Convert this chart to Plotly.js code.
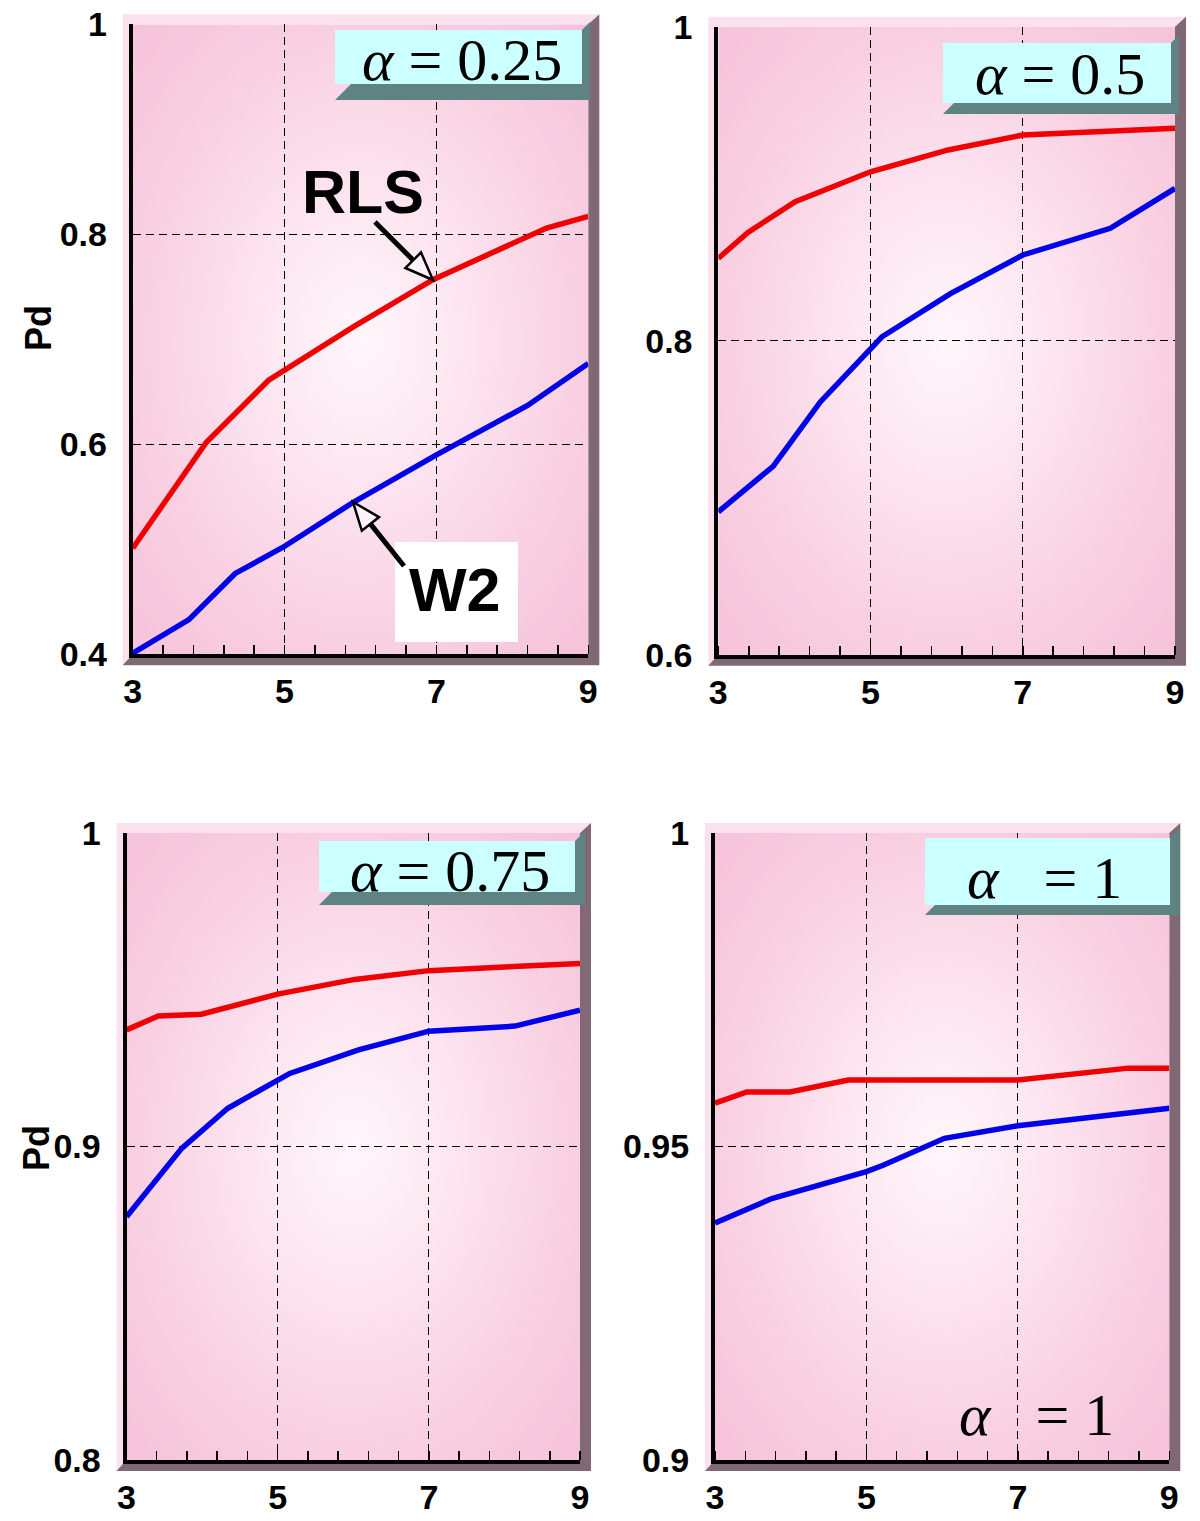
<!DOCTYPE html>
<html><head><meta charset="utf-8">
<script src="https://cdn.plot.ly/plotly-3.0.1.min.js"></script>
<style>html,body{margin:0;padding:0;background:#fff}#chart{width:1200px;height:1521px}</style>
</head><body><div id="chart"></div>
<script>
// ---------------- data ----------------
const xTicks = [3, 5, 7, 9];

// alpha = 0.25
const xRLS_025 = [3, 3.4, 3.62, 3.97, 4.79, 5.91, 6.96, 7.67, 8.45, 9];
const yRLS_025 = [0.501, 0.542, 0.566, 0.602, 0.661, 0.712, 0.757, 0.780, 0.806, 0.817];
const xW2_025 = [3, 3.74, 4.35, 4.98, 5.91, 7, 8.2, 9];
const yW2_025 = [0.401, 0.433, 0.477, 0.502, 0.545, 0.590, 0.637, 0.677];

// alpha = 0.5
const xRLS_05 = [3, 3.39, 4.01, 5.0, 6.02, 7, 9];
const yRLS_05 = [0.8525, 0.869, 0.8885, 0.9076, 0.9215, 0.931, 0.9353];
const xW2_05 = [3, 3.72, 4.34, 5.15, 6.05, 7, 8.15, 9];
const yW2_05 = [0.691, 0.720, 0.761, 0.8025, 0.830, 0.8546, 0.8716, 0.897];

// alpha = 0.75
const xRLS_075 = [3, 3.42, 3.99, 5, 6.02, 7, 9];
const yRLS_075 = [0.9372, 0.9416, 0.9422, 0.9486, 0.9533, 0.9561, 0.9584];
const xW2_075 = [3, 3.73, 4.34, 5.16, 6.07, 7, 8.14, 9];
const yW2_075 = [0.8776, 0.8994, 0.9122, 0.9233, 0.9308, 0.9368, 0.9384, 0.9435];

// alpha = 1
const xRLS_1 = [3, 3.42, 3.99, 4.76, 7, 8.46, 9];
const yRLS_1 = [0.9569, 0.9587, 0.9587, 0.9606, 0.9606, 0.9625, 0.9625];
const xW2_1 = [3, 3.75, 5, 5.22, 6.03, 7, 9];
const yW2_1 = [0.9378, 0.9417, 0.946, 0.947, 0.9513, 0.9533, 0.9561];

// y tick values / labels per panel
const yTicks_025 = [0.4, 0.6, 0.8, 1];  const yLabels_025 = ['0.4', '0.6', '0.8', '1'];
const yTicks_05  = [0.6, 0.8, 1];       const yLabels_05  = ['0.6', '0.8', '1'];
const yTicks_075 = [0.8, 0.9, 1];       const yLabels_075 = ['0.8', '0.9', '1'];
const yTicks_1   = [0.9, 0.95, 1];      const yLabels_1   = ['0.9', '0.95', '1'];

const seriesNames = ['RLS', 'W2'];
const alphaLabels = ['<i>α</i> = 0.25', '<i>α</i> = 0.5', '<i>α</i> = 0.75', '<i>α</i>\u2002 = 1'];

// ---------------- layout geometry (pixels) ----------------
const W = 1200, H = 1521;
const panels = [
  {rect: [132.7, 24.3, 588.3, 654.3], yr: [0.4, 1], yt: yTicks_025, yl: yLabels_025,
   xR: xRLS_025, yR: yRLS_025, xW: xW2_025, yW: yW2_025,
   box: [335, 30, 582, 84, 590, 100], lab: [462, 60]},
  {rect: [718.3, 26.7, 1175, 654.7], yr: [0.6, 1], yt: yTicks_05, yl: yLabels_05,
   xR: xRLS_05, yR: yRLS_05, xW: xW2_05, yW: yW2_05,
   box: [943, 43, 1171, 103, 1179, 114], lab: [1060, 74]},
  {rect: [126.5, 833, 580, 1460], yr: [0.8, 1], yt: yTicks_075, yl: yLabels_075,
   xR: xRLS_075, yR: yRLS_075, xW: xW2_075, yW: yW2_075,
   box: [319, 841, 575, 892, 585, 905], lab: [450, 871]},
  {rect: [715, 833, 1169.3, 1460], yr: [0.9, 1], yt: yTicks_1, yl: yLabels_1,
   xR: xRLS_1, yR: yRLS_1, xW: xW2_1, yW: yW2_1,
   box: [925, 838, 1170, 905, 1180, 915], lab: [1044, 878]}
];

const px = p => p / W;
const py = p => 1 - p / H;
const P = (x, y) => px(x).toFixed(5) + ',' + py(y).toFixed(5);
const path = pts => 'M' + pts.map(p => P(p[0], p[1])).join(' L') + ' Z';

// radial gradient background image
const cv = document.createElement('canvas');
cv.width = 300; cv.height = 300;
const cx = cv.getContext('2d');
const g = cx.createRadialGradient(150, 150, 0, 150, 150, 212);
g.addColorStop(0, '#fff7fb');
g.addColorStop(0.3, '#fde7f1');
g.addColorStop(0.7, '#f9cfe2');
g.addColorStop(1, '#f6c3da');
cx.fillStyle = g; cx.fillRect(0, 0, 300, 300);
const bgURL = cv.toDataURL('image/png');

const tickFont = {family: 'Liberation Sans, Arial, sans-serif', size: 34, weight: 'bold', color: '#000'};
const mathFont = {family: 'Liberation Serif, Times New Roman, serif', size: 60, color: '#000'};
const boldBig = {family: 'Liberation Sans, Arial, sans-serif', size: 61, weight: 'bold', color: '#000'};

const data = [];
const layout = {
  width: W, height: H, margin: {l: 0, r: 0, t: 0, b: 0},
  paper_bgcolor: '#ffffff', plot_bgcolor: 'rgba(0,0,0,0)', showlegend: false,
  shapes: [], annotations: [], images: []
};

panels.forEach((p, i) => {
  const n = i === 0 ? '' : String(i + 1);
  const xa = 'x' + n, ya = 'y' + n;
  const [L, T, R, B] = p.rect;
  layout['xaxis' + n] = {
    domain: [px(L), px(R)], range: [3, 9], anchor: ya,
    tickmode: 'array', tickvals: xTicks, ticktext: xTicks.map(String), ticks: '',
    showline: true, linecolor: '#000', linewidth: 4, zeroline: false,
    showgrid: true, gridcolor: '#000', gridwidth: 1, griddash: '8px,5px',
    tickfont: tickFont, ticklabelstandoff: 4, fixedrange: true,
    minor: {tickmode: 'linear', tick0: 3, dtick: 0.4, ticks: 'inside', ticklen: 9,
            tickwidth: 1.5, tickcolor: '#000', showgrid: false}
  };
  layout['yaxis' + n] = {
    domain: [py(B), py(T)], range: p.yr, anchor: xa,
    tickmode: 'array', tickvals: p.yt, ticktext: p.yl, ticks: '',
    showline: true, linecolor: '#000', linewidth: 4, zeroline: false,
    showgrid: true, gridcolor: '#000', gridwidth: 1, griddash: '8px,5px',
    tickfont: tickFont, ticklabelstandoff: 15, fixedrange: true
  };
  data.push({x: p.xR, y: p.yR, type: 'scatter', mode: 'lines', name: seriesNames[0],
    xaxis: xa, yaxis: ya, line: {color: 'rgb(240,0,0)', width: 5.5}, hoverinfo: 'skip'});
  data.push({x: p.xW, y: p.yW, type: 'scatter', mode: 'lines', name: seriesNames[1],
    xaxis: xa, yaxis: ya, line: {color: 'rgb(0,0,235)', width: 5.5}, hoverinfo: 'skip'});

  // gradient background of plot area
  layout.images.push({source: bgURL, xref: xa, yref: ya, x: 3, y: p.yr[1],
    sizex: 6, sizey: p.yr[1] - p.yr[0], sizing: 'stretch', xanchor: 'left', yanchor: 'top', layer: 'below'});

  // 3D frame: light back wall + dark floor/side
  layout.shapes.push({type: 'path', xref: 'paper', yref: 'paper', layer: 'below',
    path: path([[L - 10, B + 11], [L - 10, T - 10], [R + 11, T - 10], [R, T], [L, T], [L, B]]),
    fillcolor: '#fbe1ed', line: {width: 0}});
  layout.shapes.push({type: 'path', xref: 'paper', yref: 'paper', layer: 'below',
    path: path([[L - 10, B + 11], [L, B], [R, B], [R, T], [R + 11, T - 10], [R + 11, B + 11]]),
    fillcolor: '#806874', line: {width: 0}});

  // alpha label box
  const [cL, cT, cR, cB, sR, sB] = p.box;
  const d = sB - cB;
  layout.shapes.push({type: 'path', xref: 'paper', yref: 'paper', layer: 'above',
    path: path([[cL, sB], [cL + d, cB], [cR, cB], [cR, cT], [sR, cT - (sR - cR)], [sR, sB]]),
    fillcolor: '#5f8282', line: {width: 0}});
  layout.shapes.push({type: 'rect', xref: 'paper', yref: 'paper', layer: 'above',
    x0: px(cL), x1: px(cR), y0: py(cB), y1: py(cT), fillcolor: '#ccffff', line: {width: 0}});
  layout.annotations.push({xref: 'paper', yref: 'paper', x: px(p.lab[0]), y: py(p.lab[1]),
    text: alphaLabels[i], showarrow: false, font: mathFont, xanchor: 'center', yanchor: 'middle'});
});

// second alpha = 1 label inside the last panel
layout.annotations.push({xref: 'paper', yref: 'paper', x: px(1036), y: py(1415),
  text: '<i>α</i> \u2002= 1', showarrow: false, font: mathFont, xanchor: 'center', yanchor: 'middle'});

// "Pd" axis labels
[[38, 328], [36, 1148]].forEach(q => layout.annotations.push({xref: 'paper', yref: 'paper',
  x: px(q[0]), y: py(q[1]), text: 'Pd', textangle: -90, showarrow: false,
  font: {family: 'Liberation Sans, Arial, sans-serif', size: 36, weight: 'bold', color: '#000'},
  xanchor: 'center', yanchor: 'middle'}));

// W2 white label box
layout.shapes.push({type: 'rect', xref: 'paper', yref: 'paper', layer: 'above',
  x0: px(395), x1: px(518), y0: py(642), y1: py(542), fillcolor: '#ffffff', line: {width: 0}});

// hollow-head arrows
function arrow(tail, tip) {
  const dx = tip[0] - tail[0], dy = tip[1] - tail[1], len = Math.hypot(dx, dy);
  const ux = dx / len, uy = dy / len, Lh = 28, hw = 11;
  const bx = tip[0] - ux * Lh, by = tip[1] - uy * Lh, nx = -uy, ny = ux;
  layout.shapes.push({type: 'line', xref: 'paper', yref: 'paper', layer: 'above',
    x0: px(tail[0]), y0: py(tail[1]), x1: px(bx), y1: py(by), line: {color: '#000', width: 5}});
  layout.shapes.push({type: 'path', xref: 'paper', yref: 'paper', layer: 'above',
    path: path([[tip[0], tip[1]], [bx + nx * hw, by + ny * hw], [bx - nx * hw, by - ny * hw]]),
    fillcolor: '#fdf2f7', line: {color: '#000', width: 2.5}});
}
arrow([375, 222], [433, 280]);
arrow([404, 566], [353, 502]);

layout.annotations.push({xref: 'paper', yref: 'paper', x: px(363), y: py(192), text: 'RLS',
  showarrow: false, font: boldBig, xanchor: 'center', yanchor: 'middle'});
layout.annotations.push({xref: 'paper', yref: 'paper', x: px(455), y: py(590), text: 'W2',
  showarrow: false, font: boldBig, xanchor: 'center', yanchor: 'middle'});

Plotly.newPlot('chart', data, layout, {staticPlot: true, displayModeBar: false});
</script>
</body></html>
